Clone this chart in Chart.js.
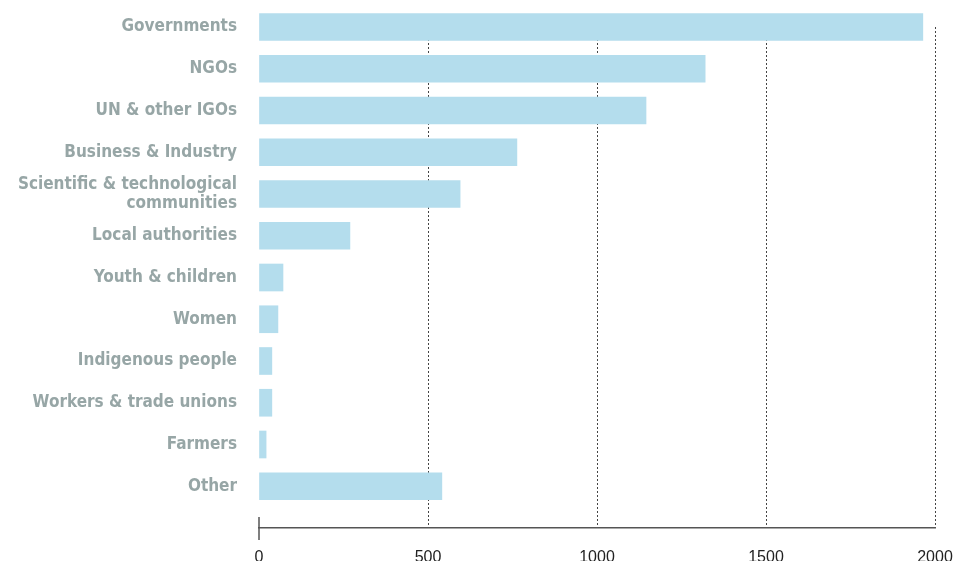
<!DOCTYPE html>
<html>
<head>
<meta charset="utf-8">
<script src="https://cdn.jsdelivr.net/npm/chart.js@4/dist/chart.umd.min.js"></script>
<style>
  html, body { margin: 0; padding: 0; background: #fff; }
  #wrap { width: 955px; height: 561px; }
</style>
</head>
<body>
<div id="wrap"><canvas id="groupsChart"></canvas></div>
<script>
const categories = [
    'Governments',
    'NGOs',
    'UN & other IGOs',
    'Business & Industry',
    ['Scientific & technological', 'communities'],
    'Local authorities',
    'Youth & children',
    'Women',
    'Indigenous people',
    'Workers & trade unions',
    'Farmers',
    'Other'
];
const counts = [1964, 1320, 1145, 763, 595, 269, 71, 56, 38, 38, 21, 541];
const xTicks = [0, 500, 1000, 1500, 2000];

// little tick mark at zero that crosses the axis line
const zeroTick = {
    id: 'zeroTick',
    afterDraw(chart) {
        const x = chart.scales.x.getPixelForValue(0);
        const bottom = chart.chartArea.bottom;
        const ctx = chart.ctx;
        ctx.save();
        ctx.strokeStyle = '#555';
        ctx.lineWidth = 1.5;
        ctx.beginPath();
        ctx.moveTo(x, bottom - 11);
        ctx.lineTo(x, bottom + 12);
        ctx.stroke();
        ctx.restore();
    }
};

new Chart(document.getElementById('groupsChart'), {
    type: 'bar',
    data: {
        datasets: [{
            data: counts.map((v, i) => ({ x: v, y: i })),
            backgroundColor: '#b4dded',
            borderWidth: 0,
            barThickness: 27,
            clip: false
        }]
    },
    options: {
        indexAxis: 'y',
        responsive: true,
        maintainAspectRatio: false,
        animation: false,
        layout: { padding: { top: 27, right: 20, left: 0, bottom: 0 } },
        plugins: {
            legend: { display: false },
            tooltip: { enabled: false }
        },
        scales: {
            y: {
                type: 'linear',
                reverse: true,
                offset: false,
                min: 0,
                max: 12,
                grid: { display: false, drawTicks: false },
                border: { display: false },
                afterFit: s => { s.width = 259; s.paddingTop = 0; s.paddingBottom = 0; },
                afterBuildTicks: s => { s.ticks = categories.map((c, i) => ({ value: i })); },
                ticks: {
                    autoSkip: false,
                    padding: 22,
                    color: '#97a6a6',
                    font: { family: '"DejaVu Sans Condensed", "DejaVu Sans"', weight: 'bold', size: 17, lineHeight: 1.1 },
                    callback: v => categories[v] ?? ''
                }
            },
            x: {
                min: 0,
                max: 2000,
                afterFit: s => { s.height = 33; s.paddingLeft = 0; s.paddingRight = 0; },
                afterBuildTicks: s => { s.ticks = xTicks.map(v => ({ value: v })); },
                grid: {
                    drawTicks: false,
                    color: c => c.tick && c.tick.value === 0 ? 'rgba(0,0,0,0)' : '#444',
                    lineWidth: 1
                },
                border: { display: true, color: '#555', width: 1.5, dash: [2, 2] },
                ticks: {
                    padding: 20,
                    color: '#222',
                    font: { family: '"Liberation Sans", Arial', size: 16 },
                    callback: v => String(v)
                }
            }
        }
    },
    plugins: [zeroTick]
});
</script>
</body>
</html>
